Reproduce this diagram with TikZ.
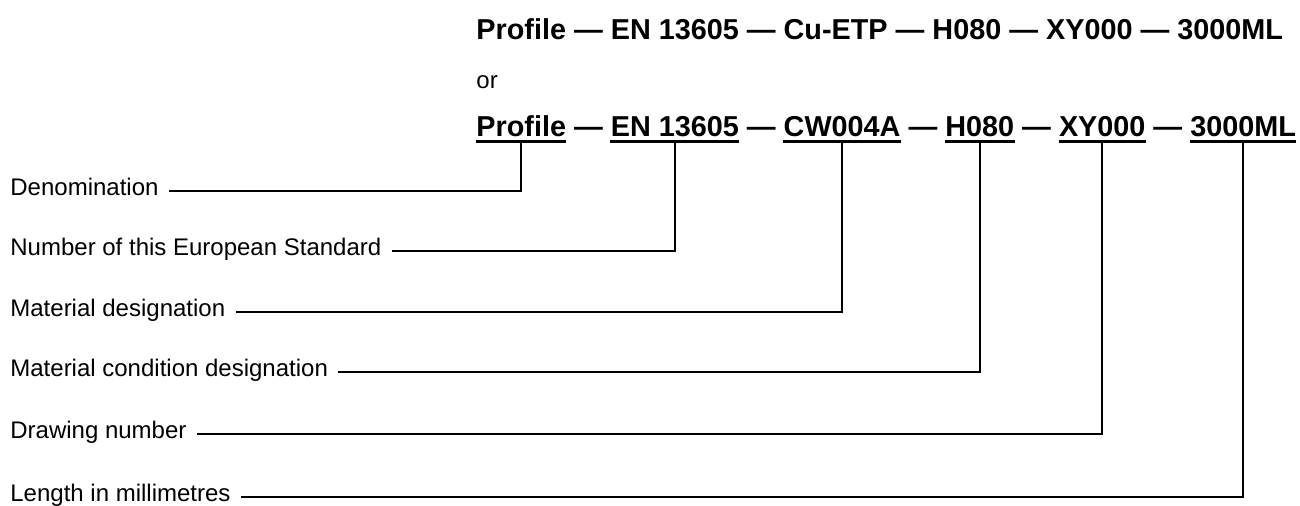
\documentclass[tikz,border=0pt]{standalone}
\usepackage{fontspec}
\setmainfont{Liberation Sans}
\usetikzlibrary{positioning}
\tikzset{
lbl/.style={inner sep=0pt, anchor=base west, font=\fontsize{12}{14}\selectfont},
word/.style={inner sep=0pt, text height=10.5pt, text depth=0pt,
  font=\fontsize{14.4}{17}\selectfont\bfseries},
uline/.style={line width=1.5pt},
lead/.style={line width=0.85pt},
}
\begin{document}
\begin{tikzpicture}[x=0.5pt,y=-0.5pt,node distance=3.6pt]
	\useasboundingbox (0,0) rectangle (1300,506);

	% first form
	\node[word,anchor=base west] (t1) at (476,40) {Profile — EN 13605 — Cu-ETP — H080 — XY000 — 3000ML};
	\node[lbl] (or) at (476,89) {or};

	% second form, parts underlined
	\node[word,anchor=base west] (w1) at (476,137) {Profile};
	\node[word,base right=of w1] (d1) {—};
	\node[word,base right=of d1] (w2) {EN 13605};
	\node[word,base right=of w2] (d2) {—};
	\node[word,base right=of d2] (w3) {CW004A};
	\node[word,base right=of w3] (d3) {—};
	\node[word,base right=of d3] (w4) {H080};
	\node[word,base right=of w4] (d4) {—};
	\node[word,base right=of d4] (w5) {XY000};
	\node[word,base right=of w5] (d5) {—};
	\node[word,base right=of d5] (w6) {3000ML};
	\foreach \w in {w1,w2,w3,w4,w5,w6}
		\draw[uline] ([yshift=-2.5pt]\w.base west) -- ([yshift=-2.5pt]\w.base east);

	% labels
	\node[lbl] (l1) at (10,196) {Denomination};
	\node[lbl] (l2) at (10,256) {Number of this European Standard};
	\node[lbl] (l3) at (10,317) {Material designation};
	\node[lbl] (l4) at (10,377) {Material condition designation};
	\node[lbl] (l5) at (10,439) {Drawing number};
	\node[lbl] (l6) at (10,502) {Length in millimetres};

	\draw[lead] ([xshift=5pt,yshift=2.5pt]l1.base east) -| ([yshift=-2.5pt]w1.base);
	\draw[lead] ([xshift=5pt,yshift=2.5pt]l2.base east) -| ([yshift=-2.5pt]w2.base);
	\draw[lead] ([xshift=5pt,yshift=2.5pt]l3.base east) -| ([yshift=-2.5pt]w3.base);
	\draw[lead] ([xshift=5pt,yshift=2.5pt]l4.base east) -| ([yshift=-2.5pt]w4.base);
	\draw[lead] ([xshift=5pt,yshift=2.5pt]l5.base east) -| ([yshift=-2.5pt]w5.base);
	\draw[lead] ([xshift=5pt,yshift=2.5pt]l6.base east) -| ([yshift=-2.5pt]w6.base);
\end{tikzpicture}
\end{document}
